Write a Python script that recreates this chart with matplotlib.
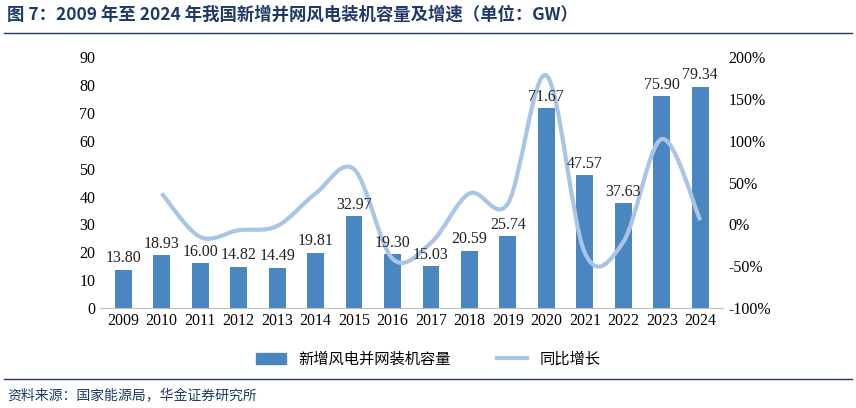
import matplotlib
matplotlib.use("Agg")
import matplotlib.pyplot as plt
from matplotlib.path import Path
from matplotlib.patches import PathPatch
from matplotlib.lines import Line2D
import numpy as np

years = ["2009","2010","2011","2012","2013","2014","2015","2016","2017","2018","2019","2020","2021","2022","2023","2024"]
capacity = [13.80,18.93,16.00,14.82,14.49,19.81,32.97,19.30,15.03,20.59,25.74,71.67,47.57,37.63,75.90,79.34]
growth_years = years[1:]
growth = [37,-15,-7,-2,37,66,-41,-22,37,25,178,-34,-21,102,5]

plt.rcParams['font.family'] = ['Liberation Serif', 'Noto Sans CJK SC']
fig = plt.figure(figsize=(8.56,4.08), dpi=100)
ax = fig.add_axes([0.117,0.245,0.728,0.615])
x = np.arange(len(years))
bar_c = '#4a86c0'
line_c = '#a9c4e6'
ax.bar(x, capacity, width=0.44, color=bar_c, zorder=2)
ax.set_ylim(0,90); ax.set_yticks(range(0,91,10))
ax.set_xlim(-0.6, len(years)-0.4)
ax.set_xticks(x); ax.set_xticklabels(years)
ax.tick_params(labelsize=11.5, length=0)
for s in ['top','right','left']:
    ax.spines[s].set_visible(False)
ax.spines['bottom'].set_color('#bfbfbf')

ax2 = ax.twinx()
ax2.set_ylim(-100,200); ax2.set_yticks(range(-100,201,50))
ax2.set_yticklabels([f"{t}%" for t in range(-100,201,50)])
ax2.tick_params(labelsize=11.5, length=0)
for s in ax2.spines.values(): s.set_visible(False)
gx = np.arange(1, len(years)).astype(float)
gy = np.array(growth, float)
P = np.column_stack([gx, gy])
verts=[tuple(P[0])]; codes=[Path.MOVETO]
for i in range(len(P)-1):
    p0 = P[i-1] if i>0 else P[i]
    p3 = P[i+2] if i+2<len(P) else P[i+1]
    c1 = P[i] + (P[i+1]-p0)/6
    c2 = P[i+1] - (p3-P[i])/6
    verts += [tuple(c1), tuple(c2), tuple(P[i+1])]; codes += [Path.CURVE4]*3
ax2.add_patch(PathPatch(Path(verts,codes), fill=False, edgecolor=line_c, lw=3, zorder=3))
for xi, v in zip(x, capacity):
    ax2.text(xi, v+1.2, f"{v:.2f}", ha='center', va='bottom', fontsize=11.5, color='#222222',
             transform=ax.transData, zorder=5)

h1 = plt.Rectangle((0,0),1,1,color=bar_c)
h2 = Line2D([0],[0],color=line_c,lw=3)
fig.legend([h1,h2],["新增风电并网装机容量","同比增长"], loc='center', bbox_to_anchor=(0.5,0.12),
           ncol=2, frameon=False, prop={'family':['Noto Sans CJK SC'],'size':11}, columnspacing=3)

fig.text(0.008,0.965,"图 7：2009 年至 2024 年我国新增并网风电装机容量及增速（单位：GW）", fontsize=12.5,
         fontweight='bold', color='#1f3a68', family=['Noto Sans CJK SC'], va='center')
fig.add_artist(Line2D([0.005,0.995],[0.92,0.92], color='#1f3a68', lw=1))
fig.add_artist(Line2D([0.005,0.995],[0.07,0.07], color='#1f3a68', lw=1))
fig.text(0.008,0.03,"资料来源：国家能源局，华金证券研究所", fontsize=10, style='italic', color='#1f3a68',
         family=['Noto Sans CJK SC'], va='center')
fig.savefig("out.png", dpi=100)
